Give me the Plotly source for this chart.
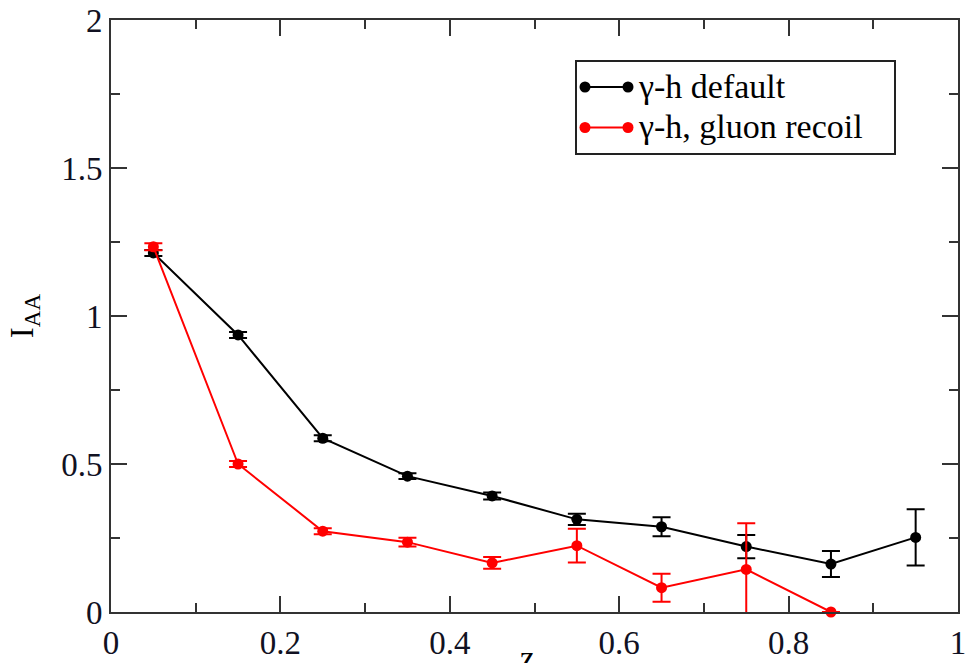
import plotly.graph_objects as go

# data
z_default = [0.05, 0.15, 0.25, 0.35, 0.45, 0.55, 0.65, 0.75, 0.85, 0.95]
iaa_default = [1.213, 0.936, 0.587, 0.459, 0.392, 0.313, 0.288, 0.221, 0.162, 0.252]
err_default = [0.010, 0.010, 0.010, 0.010, 0.012, 0.019, 0.032, 0.039, 0.044, 0.095]

z_recoil = [0.05, 0.15, 0.25, 0.35, 0.45, 0.55, 0.65, 0.75, 0.85]
iaa_recoil = [1.234, 0.500, 0.273, 0.236, 0.166, 0.224, 0.082, 0.144, 0.0]
err_recoil = [0.012, 0.010, 0.010, 0.015, 0.020, 0.057, 0.047, 0.156, 0.0]

series_names = ["γ-h default", "γ-h, gluon recoil"]
series_colors = ["#000000", "#ff0000"]

x_ticks = [0, 0.2, 0.4, 0.6, 0.8, 1]
x_ticklabels = ["0", "0.2", "0.4", "0.6", "0.8", "1"]
y_ticks = [0, 0.5, 1, 1.5, 2]
y_ticklabels = ["0", "0.5", "1", "1.5", "2"]

FONT = "'Liberation Serif', 'Times New Roman', serif"

fig = go.Figure()
for xs, ys, es, name, col in [
    (z_default, iaa_default, err_default, series_names[0], series_colors[0]),
    (z_recoil, iaa_recoil, err_recoil, series_names[1], series_colors[1]),
]:
    fig.add_trace(go.Scatter(
        x=xs, y=ys, mode="lines+markers", name=name,
        line=dict(color=col, width=2),
        marker=dict(color=col, size=11, symbol="circle"),
        error_y=dict(type="data", array=es, visible=True, color=col,
                     thickness=2, width=9),
        cliponaxis=False, showlegend=False,
    ))

axis_common = dict(
    showline=True, linewidth=2, linecolor="#333333", mirror="ticks",
    ticks="inside", ticklen=16, tickwidth=2, tickcolor="#333333",
    showgrid=False, zeroline=False,
    tickfont=dict(family=FONT, size=33, color="#111122"),
)

fig.update_xaxes(
    range=[0, 1], tickvals=x_ticks, ticktext=x_ticklabels,
    minor=dict(ticks="inside", ticklen=9, tickwidth=2, tickcolor="#333333", dtick=0.1, showgrid=False),
    **axis_common,
)
fig.update_yaxes(
    range=[0, 2], tickvals=y_ticks, ticktext=y_ticklabels,
    minor=dict(ticks="inside", ticklen=9, tickwidth=2, tickcolor="#333333", dtick=0.25, showgrid=False),
    title=dict(text="I<sub>AA</sub>", font=dict(family=FONT, size=33, color="#000000"), standoff=18),
    **axis_common,
)

# plot-area geometry in pixels (for the hand-made legend)
L, R, T, B = 111, 958, 20, 612
W, H = R - L, B - T
def px(x):
    return (x - L) / W
def py(y):
    return (B - y) / H

shapes = []
annotations = []
# legend frame
shapes.append(dict(type="rect", xref="paper", yref="paper",
                   x0=px(576), x1=px(895), y0=py(61), y1=py(154),
                   line=dict(color="#222222", width=2), fillcolor="white", layer="above"))
for i, (name, col) in enumerate(zip(series_names, series_colors)):
    yc = 87 + i * 40.5
    shapes.append(dict(type="line", xref="paper", yref="paper",
                       x0=px(585), x1=px(628), y0=py(yc), y1=py(yc),
                       line=dict(color=col, width=2), layer="above"))
    for xc in (585, 628):
        shapes.append(dict(type="circle", xref="paper", yref="paper",
                           x0=px(xc - 5.5), x1=px(xc + 5.5), y0=py(yc - 5.5), y1=py(yc + 5.5),
                           line=dict(color=col, width=0), fillcolor=col, layer="above"))
    annotations.append(dict(text=name, xref="paper", yref="paper",
                            x=px(636), y=py(yc - 1), xanchor="left", yanchor="middle",
                            showarrow=False,
                            font=dict(family=FONT, size=34, color="#000000")))

# x-axis title (sits partly below the visible page, as in the reference)
annotations.append(dict(text="z", xref="paper", yref="paper",
                        x=px(527), y=py(638), xanchor="center", yanchor="top",
                        showarrow=False,
                        font=dict(family=FONT, size=33, color="#000000")))

fig.update_layout(
    width=970, height=663,
    margin=dict(l=L, r=970 - R, t=T, b=663 - B, autoexpand=False),
    plot_bgcolor="white", paper_bgcolor="white",
    showlegend=False,
    shapes=shapes, annotations=annotations,
)

fig.write_html("out.html")
